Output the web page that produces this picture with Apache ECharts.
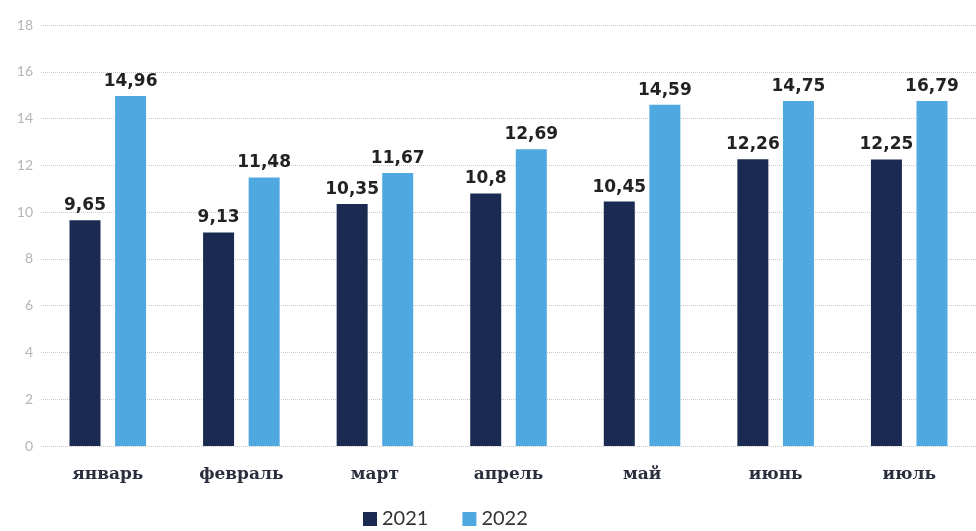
<!DOCTYPE html>
<html><head><meta charset="utf-8">
<script src="https://cdn.jsdelivr.net/npm/echarts@6/dist/echarts.min.js"></script>
<style>html,body{margin:0;padding:0;background:#fff}#c{width:976px;height:531px}</style>
</head><body><div id="c"></div>
<script>
const categories = ['январь','февраль','март','апрель','май','июнь','июль'];
const series2021 = [9.65, 9.13, 10.35, 10.8, 10.45, 12.26, 12.25];
// bar heights as drawn in the picture (the July 2022 bar is drawn at ~14.75 though labelled 16,79)
const series2022 = [14.96, 11.48, 11.67, 12.69, 14.59, 14.75, 14.75];
const labels2021 = ['9,65','9,13','10,35','10,8','10,45','12,26','12,25'];
const labels2022 = ['14,96','11,48','11,67','12,69','14,59','14,75','16,79'];
const yTicks = [0,2,4,6,8,10,12,14,16,18];

const chart = echarts.init(document.getElementById('c'));
const labelStyle = {show:true, position:'top', distance:6, color:'#222', fontSize:17, fontWeight:'bold', fontFamily:'"DejaVu Sans", sans-serif'};
chart.setOption({
  animation:false,
  grid:{left:41, right:-19, top:25, bottom:85},
  legend:{bottom:-3, left:358, itemWidth:14, itemHeight:14, itemGap:34, icon:'rect',
    textStyle:{fontSize:20, color:'#333', fontFamily:'Lato, sans-serif'},
    data:['2021','2022']},
  xAxis:{type:'category', data:categories, axisLine:{show:false}, axisTick:{show:false},
    axisLabel:{margin:20, fontSize:17, color:'#2a2e3d', fontWeight:'bold', fontFamily:'"DejaVu Serif", "Liberation Serif", serif'}},
  yAxis:{type:'value', min:yTicks[0], max:yTicks[yTicks.length-1], interval:2,
    axisLine:{show:false}, axisTick:{show:false},
    axisLabel:{margin:8, fontSize:14, color:'#b5b5b5', fontFamily:'Lato, sans-serif'},
    splitLine:{lineStyle:{type:'dotted', color:'#c8c8c8', width:1}}},
  series:[
    {name:'2021', type:'bar', data:series2021, barWidth:31, barGap:'47%', itemStyle:{color:'#1b2a50'},
     label:Object.assign({}, labelStyle, {formatter:p=>labels2021[p.dataIndex]})},
    {name:'2022', type:'bar', data:series2022, barWidth:31, itemStyle:{color:'#4fa8e0'},
     label:Object.assign({}, labelStyle, {formatter:p=>labels2022[p.dataIndex]})}
  ]
});
</script></body></html>
